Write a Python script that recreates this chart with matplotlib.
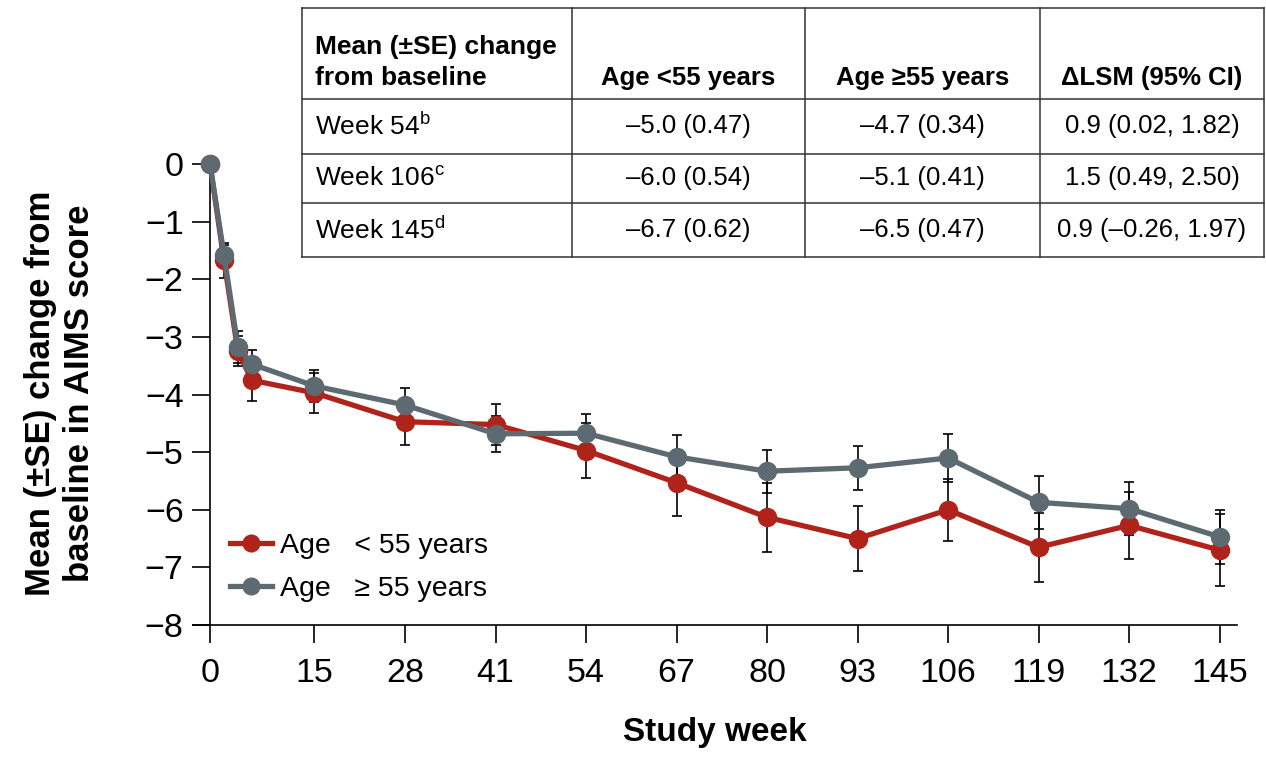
import matplotlib
matplotlib.use("Agg")
import matplotlib.pyplot as plt

plt.rcParams["font.family"] = ["Liberation Sans", "DejaVu Sans"]
plt.rcParams["mathtext.fontset"] = "custom"
plt.rcParams["mathtext.rm"] = "Liberation Sans"
plt.rcParams["mathtext.bf"] = "Liberation Sans:bold"

# study weeks and mean (SE) change from baseline
weeks = [0, 2, 4, 6, 15, 28, 41, 54, 67, 80, 93, 106, 119, 132, 145]
young_mean = [0, -1.67, -3.25, -3.75, -3.97, -4.47, -4.52, -4.97, -5.53, -6.13, -6.50, -6.00, -6.65, -6.27, -6.70]
young_se = [0, 0.30, 0.26, 0.36, 0.35, 0.40, 0.36, 0.47, 0.57, 0.60, 0.56, 0.54, 0.60, 0.58, 0.62]
old_mean = [0, -1.57, -3.17, -3.47, -3.85, -4.18, -4.68, -4.67, -5.08, -5.33, -5.27, -5.10, -5.87, -5.98, -6.47]
old_se = [0, 0.17, 0.28, 0.24, 0.28, 0.30, 0.31, 0.34, 0.38, 0.37, 0.38, 0.41, 0.46, 0.46, 0.47]

x_ticks = [0, 15, 28, 41, 54, 67, 80, 93, 106, 119, 132, 145]
y_ticks = [0, -1, -2, -3, -4, -5, -6, -7, -8]

table_header = ["Mean (±SE) change\nfrom baseline", "Age <55 years", "Age ≥55 years", "ΔLSM (95% CI)"]
table_rows = [
    ["Week 54$^{\\mathrm{b}}$", "–5.0 (0.47)", "–4.7 (0.34)", "0.9 (0.02, 1.82)"],
    ["Week 106$^{\\mathrm{c}}$", "–6.0 (0.54)", "–5.1 (0.41)", "1.5 (0.49, 2.50)"],
    ["Week 145$^{\\mathrm{d}}$", "–6.7 (0.62)", "–6.5 (0.47)", "0.9 (–0.26, 1.97)"],
]

RED = "#B0231A"
GRAY = "#5E6A71"

W, H = 1266, 758
fig = plt.figure(figsize=(W / 100, H / 100), dpi=100)
ax = fig.add_axes([193 / W, 1 - 625 / H, (1237 - 193) / W, (625 - 147) / H])

for mean, se in ((young_mean, young_se), (old_mean, old_se)):
    ax.errorbar(weeks, mean, yerr=se, fmt="none", ecolor="black",
                elinewidth=1.2, capsize=3.3, capthick=1.2, zorder=1)
ax.plot(weeks, young_mean, color=RED, lw=3.8, marker="o", ms=13,
        label="Age   < 55 years", zorder=2)
ax.plot(weeks, old_mean, color=GRAY, lw=3.8, marker="o", ms=13,
        label="Age   ≥ 55 years", zorder=3)

ax.set_xlim(-2.45, 147.5)
ax.set_ylim(-8, 0.3)
ax.spines["left"].set_position(("data", 0))
ax.spines["left"].set_bounds(-8, 0)
ax.spines["top"].set_visible(False)
ax.spines["right"].set_visible(False)
for s in ("left", "bottom"):
    ax.spines[s].set_linewidth(1.2)
ax.set_xticks(x_ticks)
ax.set_yticks(y_ticks)
ax.tick_params(axis="both", length=13, width=1.2, labelsize=24.5)
ax.tick_params(axis="x", pad=11)
ax.tick_params(axis="y", pad=6)

ax.set_xlabel("Study week", fontsize=24, fontweight="bold", labelpad=20)
fig.text(60 / W, 1 - 393 / H, "Mean (±SE) change from\nbaseline in AIMS score",
         rotation=90, ha="center", va="center", multialignment="center",
         fontsize=25, fontweight="bold", linespacing=1.25)

leg = ax.legend(loc="lower left", bbox_to_anchor=(0.025, 0.025), frameon=False,
                fontsize=20.5, handlelength=1.45, handletextpad=0.3,
                labelspacing=0.6, borderaxespad=0)
for h in leg.legend_handles:
    h.set_markersize(12)

# table drawn in pixel units of its own axes
tx0, ty0, tx1, ty1 = 302, 8, 1264, 257
tab = fig.add_axes([tx0 / W, 1 - ty1 / H, (tx1 - tx0) / W, (ty1 - ty0) / H])
tab.set_xlim(0, tx1 - tx0)
tab.set_ylim(ty1 - ty0, 0)
tab.axis("off")
col_edges = [0, 270, 503, 738, tx1 - tx0]
row_edges = [0, 91, 146, 195, ty1 - ty0]
for xe in col_edges:
    tab.plot([xe, xe], [row_edges[0], row_edges[-1]], color="#333333", lw=1.1, clip_on=False)
for ye in row_edges:
    tab.plot([col_edges[0], col_edges[-1]], [ye, ye], color="#333333", lw=1.1, clip_on=False)

for j, txt in enumerate(table_header):
    if j == 0:
        tab.text(13, 82, txt, ha="left", va="bottom", fontsize=19, fontweight="bold",
                 linespacing=1.35)
    else:
        tab.text((col_edges[j] + col_edges[j + 1]) / 2, 82, txt, ha="center", va="bottom",
                 fontsize=18.5, fontweight="bold")
for i, row in enumerate(table_rows):
    yc = (row_edges[i + 1] + row_edges[i + 2]) / 2
    for j, txt in enumerate(row):
        if j == 0:
            tab.text(13, yc, txt, ha="left", va="center", fontsize=19)
        else:
            tab.text((col_edges[j] + col_edges[j + 1]) / 2, yc, txt, ha="center",
                     va="center", fontsize=18.5)

fig.savefig("out.png", dpi=100)
